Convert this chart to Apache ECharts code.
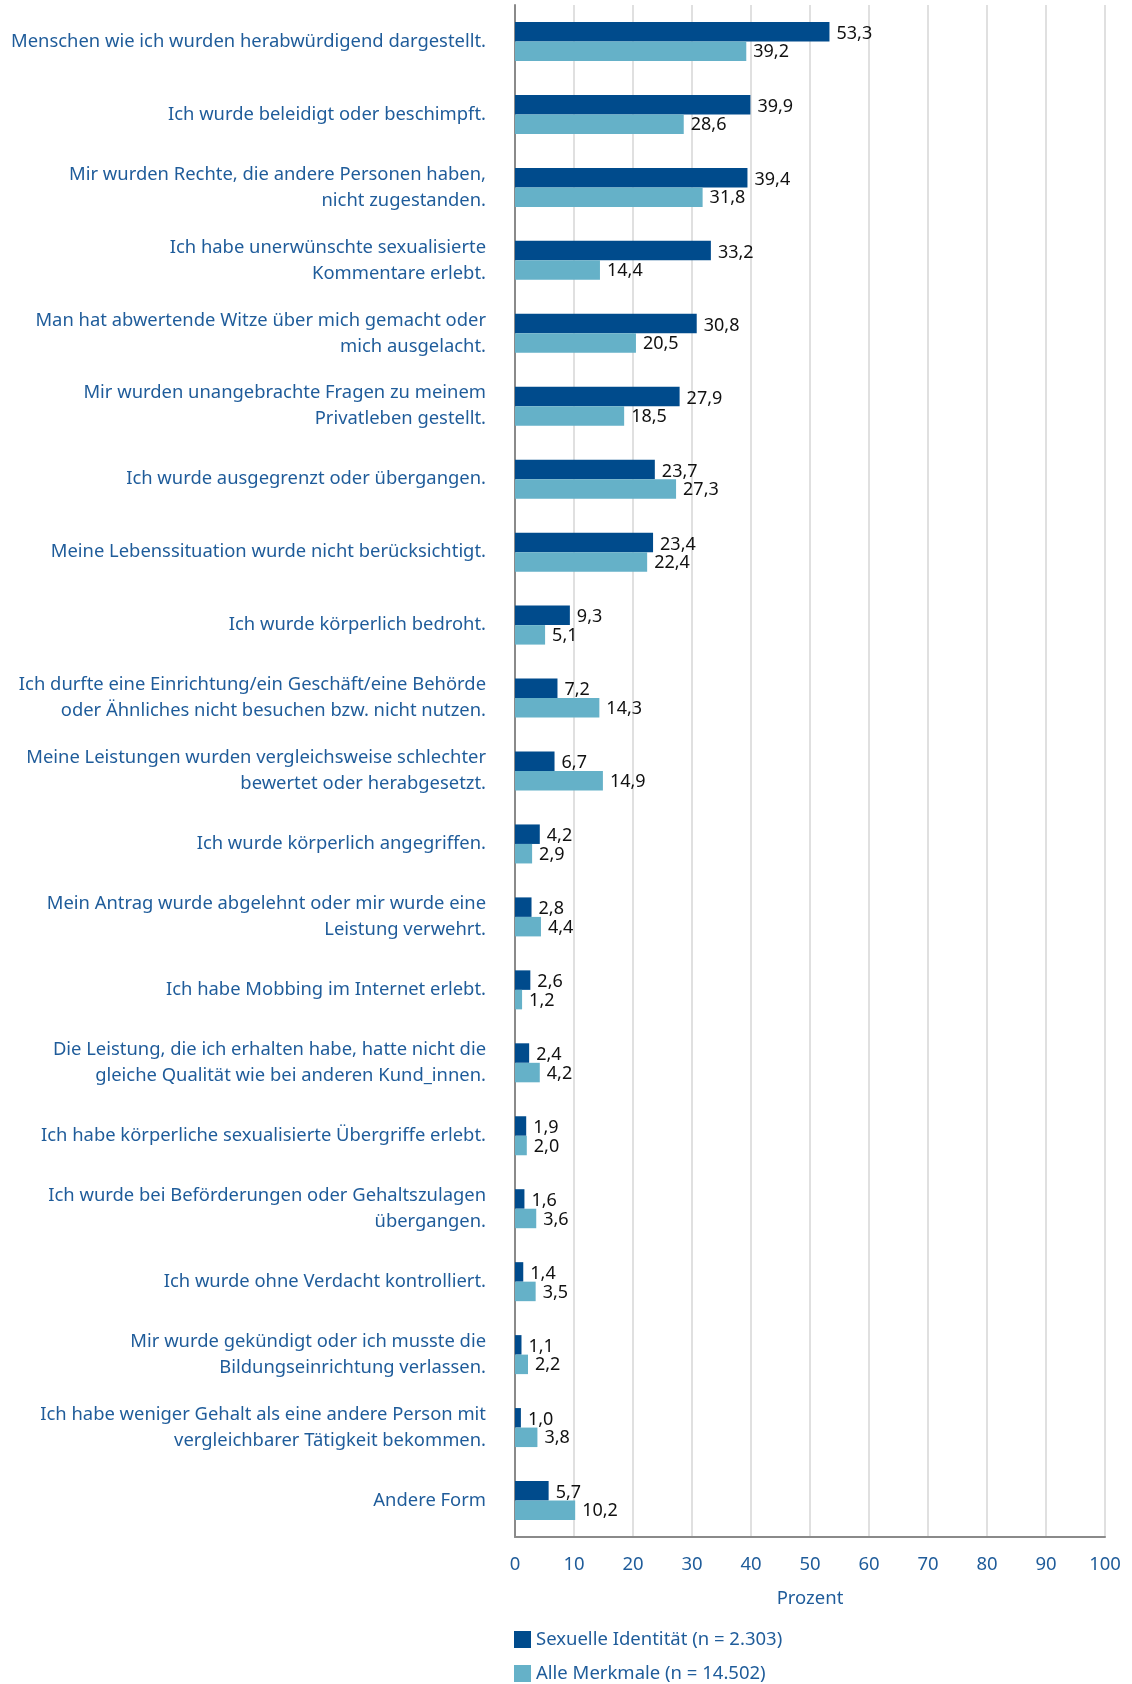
<!DOCTYPE html>
<html>
<head>
<meta charset="utf-8">
<script src="https://cdn.jsdelivr.net/npm/echarts@6/dist/echarts.min.js"></script>
<style>
html,body{margin:0;padding:0;background:#fff;}
#chart{width:1132px;height:1684px;}
</style>
</head>
<body>
<div id="chart"></div>
<script>
const categories = [
  "Menschen wie ich wurden herabwürdigend dargestellt.",
  "Ich wurde beleidigt oder beschimpft.",
  "Mir wurden Rechte, die andere Personen haben,\nnicht zugestanden.",
  "Ich habe unerwünschte sexualisierte\nKommentare erlebt.",
  "Man hat abwertende Witze über mich gemacht oder\nmich ausgelacht.",
  "Mir wurden unangebrachte Fragen zu meinem\nPrivatleben gestellt.",
  "Ich wurde ausgegrenzt oder übergangen.",
  "Meine Lebenssituation wurde nicht berücksichtigt.",
  "Ich wurde körperlich bedroht.",
  "Ich durfte eine Einrichtung/ein Geschäft/eine Behörde\noder Ähnliches nicht besuchen bzw. nicht nutzen.",
  "Meine Leistungen wurden vergleichsweise schlechter\nbewertet oder herabgesetzt.",
  "Ich wurde körperlich angegriffen.",
  "Mein Antrag wurde abgelehnt oder mir wurde eine\nLeistung verwehrt.",
  "Ich habe Mobbing im Internet erlebt.",
  "Die Leistung, die ich erhalten habe, hatte nicht die\ngleiche Qualität wie bei anderen Kund_innen.",
  "Ich habe körperliche sexualisierte Übergriffe erlebt.",
  "Ich wurde bei Beförderungen oder Gehaltszulagen\nübergangen.",
  "Ich wurde ohne Verdacht kontrolliert.",
  "Mir wurde gekündigt oder ich musste die\nBildungseinrichtung verlassen.",
  "Ich habe weniger Gehalt als eine andere Person mit\nvergleichbarer Tätigkeit bekommen.",
  "Andere Form"
];
const seriesNames = ["Sexuelle Identität (n = 2.303)", "Alle Merkmale (n = 14.502)"];
const sexuelleIdentitaet = [53.3, 39.9, 39.4, 33.2, 30.8, 27.9, 23.7, 23.4, 9.3, 7.2, 6.7, 4.2, 2.8, 2.6, 2.4, 1.9, 1.6, 1.4, 1.1, 1.0, 5.7];
const alleMerkmale = [39.2, 28.6, 31.8, 14.4, 20.5, 18.5, 27.3, 22.4, 5.1, 14.3, 14.9, 2.9, 4.4, 1.2, 4.2, 2.0, 3.6, 3.5, 2.2, 3.8, 10.2];
const xTicks = [0, 10, 20, 30, 40, 50, 60, 70, 80, 90, 100];
const axisTitle = "Prozent";

const FONT = "Noto Sans";
const BLUE_TEXT = "#1f5c9a";
const COL1 = "#004b8c";
const COL2 = "#65b1c8";

const fmt = p => p.value.toFixed(1).replace('.', ',');

const legendBase = {
  orient: 'vertical',
  left: 514,
  padding: 0,
  itemWidth: 17,
  itemHeight: 17,
  icon: 'rect',
  textStyle: {fontFamily: FONT, fontSize: 18.5, lineHeight: 17, color: BLUE_TEXT}
};

const chart = echarts.init(document.getElementById('chart'), null, {renderer: 'canvas'});
chart.setOption({
  animation: false,
  textStyle: {fontFamily: FONT},
  grid: {left: 515, right: 27, top: 5, bottom: 147, containLabel: false},
  legend: [
    Object.assign({}, legendBase, {top: 1630, data: [seriesNames[0]]}),
    Object.assign({}, legendBase, {top: 1664, data: [seriesNames[1]]})
  ],
  xAxis: {
    type: 'value',
    min: xTicks[0],
    max: xTicks[xTicks.length - 1],
    interval: 10,
    name: axisTitle,
    nameLocation: 'middle',
    nameGap: 52,
    nameTextStyle: {fontFamily: FONT, fontSize: 18.5, color: BLUE_TEXT},
    axisLine: {show: true, lineStyle: {color: '#8a8a8a', width: 2}},
    axisTick: {show: false},
    axisLabel: {margin: 18, fontFamily: FONT, fontSize: 18.5, color: BLUE_TEXT},
    splitLine: {show: true, lineStyle: {color: '#d6d6d6', width: 1.5}}
  },
  yAxis: {
    type: 'category',
    inverse: true,
    data: categories,
    axisLine: {show: true, lineStyle: {color: '#8a8a8a', width: 2}},
    axisTick: {show: false},
    axisLabel: {margin: 29, fontFamily: FONT, fontSize: 18.4, lineHeight: 26, color: BLUE_TEXT, align: 'right'},
    splitLine: {show: false}
  },
  series: [
    {
      name: seriesNames[0],
      type: 'bar',
      data: sexuelleIdentitaet,
      barWidth: 19.5,
      barGap: '0%',
      itemStyle: {color: COL1},
      label: {show: true, position: 'right', distance: 7, offset: [0, 2], formatter: fmt, fontFamily: FONT, fontSize: 18, color: '#111'}
    },
    {
      name: seriesNames[1],
      type: 'bar',
      data: alleMerkmale,
      barWidth: 19.5,
      barGap: '0%',
      itemStyle: {color: COL2},
      label: {show: true, position: 'right', distance: 7, offset: [0, 1], formatter: fmt, fontFamily: FONT, fontSize: 18, color: '#111'}
    }
  ]
});
</script>
</body>
</html>
